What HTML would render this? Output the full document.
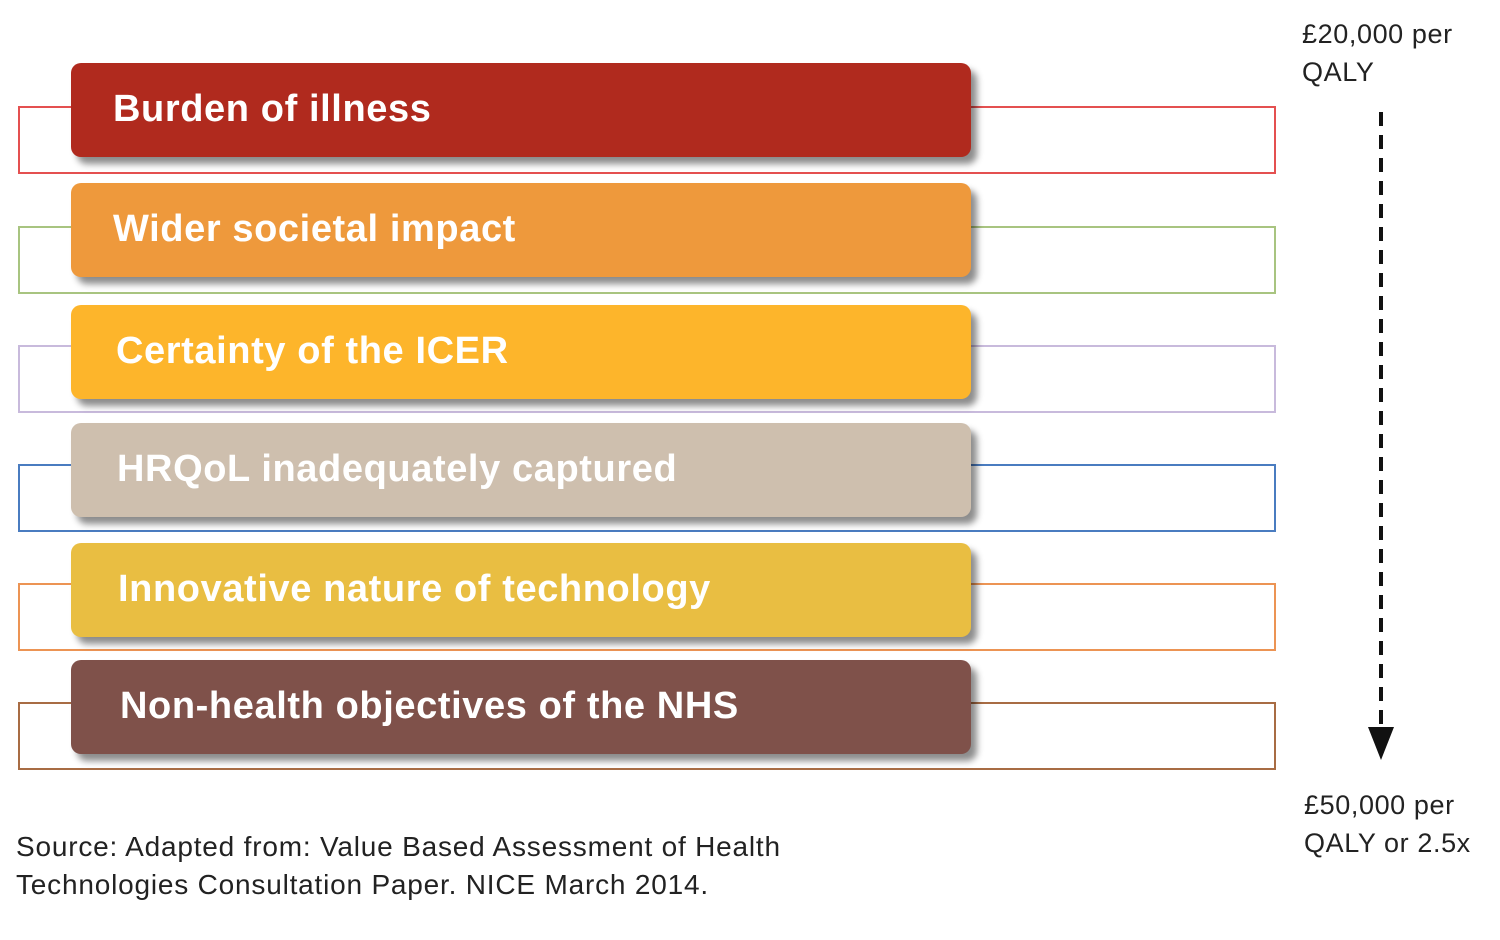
<!DOCTYPE html>
<html><head><style>
body{margin:0;width:1500px;height:940px;background:#fff;position:relative;font-family:"Liberation Sans",sans-serif;overflow:hidden}
.o{position:absolute;left:18px;width:1254px;height:64px;border:2px solid}
.b{position:absolute;left:71px;width:900px;height:94px;border-radius:10px;box-shadow:6px 7px 7px rgba(0,0,0,.45);color:#fff;font-weight:bold;font-size:38px;letter-spacing:0.6px;line-height:92px;box-sizing:border-box;padding-left:42px}
.t{position:absolute;font-size:27px;color:#222;line-height:38px;letter-spacing:0.6px}
</style></head><body>
<div class="o" style="top:106px;border-color:#e45050"></div>
<div class="o" style="top:226px;border-color:#a8c480"></div>
<div class="o" style="top:345px;border-color:#c8badc"></div>
<div class="o" style="top:464px;border-color:#4a7cc0"></div>
<div class="o" style="top:583px;border-color:#ec9454"></div>
<div class="o" style="top:702px;border-color:#a86c44"></div>
<div class="b" style="top:63px;background:#B02A1E">Burden of illness</div>
<div class="b" style="top:183px;background:#EE993C">Wider societal impact</div>
<div class="b" style="top:305px;background:#FDB52B;padding-left:45px">Certainty of the ICER</div>
<div class="b" style="top:423px;background:#CEBFAE;padding-left:46px">HRQoL inadequately captured</div>
<div class="b" style="top:543px;background:#E9BE42;padding-left:47px">Innovative nature of technology</div>
<div class="b" style="top:660px;background:#7F514A;padding-left:49px">Non-health objectives of the NHS</div>
<div class="t" style="left:1302px;top:15px">£20,000 per<br>QALY</div>
<div class="t" style="left:1304px;top:786px">£50,000 per<br>QALY or 2.5x</div>
<div class="t" style="left:16px;top:828px;font-size:28px;letter-spacing:0.8px">Source: Adapted from: Value Based Assessment of Health<br>Technologies Consultation Paper. NICE March 2014.</div>
<svg style="position:absolute;left:0;top:0" width="1500" height="940">
<line x1="1381" y1="112" x2="1381" y2="730" stroke="#111" stroke-width="4" stroke-dasharray="14,9"/>
<polygon points="1368,727 1394,727 1381,760" fill="#111"/>
</svg>
</body></html>
